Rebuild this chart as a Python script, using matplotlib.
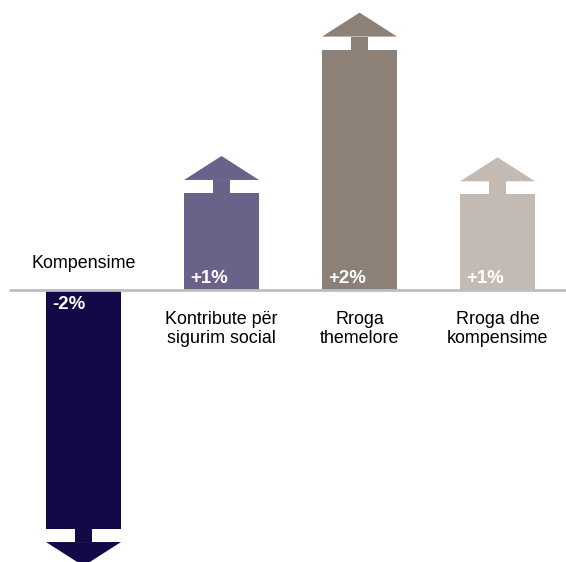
import matplotlib
matplotlib.use("Agg")
from matplotlib import pyplot as plt
from matplotlib.patches import Polygon
from matplotlib.transforms import offset_copy

categories = ["Kompensime", "Kontribute për\nsigurim social", "Rroga\nthemelore", "Rroga dhe\nkompensime"]
values = [-2.06, 1.00, 2.07, 0.99]
value_labels = ["-2%", "+1%", "+2%", "+1%"]
colors = ["#130947", "#6a6289", "#8c8077", "#c3bab3"]

plt.rcParams['font.family'] = ['Liberation Sans', 'DejaVu Sans']

fig = plt.figure(figsize=(5.66, 5.62), dpi=100)
ax = fig.add_axes([0, 0, 1, 1])
ax.set_xlim(-0.605, 3.496)
ax.set_ylim(-2.03, 2.164)
ax.axis('off')

bar_w = 0.543
stem_w = 0.123
head_h = 0.179
gap = 0.097

for i, (v, col) in enumerate(zip(values, colors)):
    s = 1 if v > 0 else -1
    body = v - s * (head_h + gap)
    ax.bar(i, body, width=bar_w, color=col, linewidth=0, zorder=2)
    ax.bar(i, s * gap, width=stem_w, bottom=body, color=col, linewidth=0, zorder=2)
    base = v - s * head_h
    ax.add_patch(Polygon([(i - bar_w / 2, base), (i + bar_w / 2, base), (i, v)],
                         closed=True, color=col, linewidth=0, zorder=2))

    # value label inside the bar, near the baseline
    left = i - bar_w / 2
    if v > 0:
        tr = offset_copy(ax.transData, fig=fig, x=6.5, y=7, units='dots')
    else:
        tr = offset_copy(ax.transData, fig=fig, x=6.5, y=-19, units='dots')
    ax.text(left, 0, value_labels[i], transform=tr, ha='left', va='baseline',
            color='white', fontsize=13.4, fontweight='bold', zorder=4)

    # category label
    if v > 0:
        tr = offset_copy(ax.transData, fig=fig, x=0, y=-21, units='dots')
        ax.text(i, 0, categories[i], transform=tr, ha='center', va='top',
                fontsize=12.9, color='black', linespacing=1.12)
    else:
        tr = offset_copy(ax.transData, fig=fig, x=0, y=22, units='dots')
        ax.text(i, 0, categories[i], transform=tr, ha='center', va='baseline',
                fontsize=12.9, color='black')

ax.plot([-0.54, 3.6], [0, 0], color='#bebebe', linewidth=2, zorder=3,
        solid_capstyle='butt')

fig.savefig("out.png", dpi=100)
